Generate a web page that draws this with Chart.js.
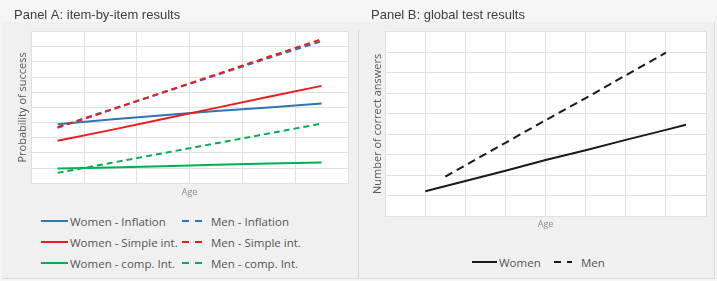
<!DOCTYPE html>
<html>
<head>
<meta charset="utf-8">
<script src="https://cdn.jsdelivr.net/npm/chart.js@4/dist/chart.umd.min.js"></script>
<style>
  html, body { margin: 0; padding: 0; }
  body { width: 717px; height: 281px; background: #f5f5f5; position: relative; overflow: hidden; }
  .frame { position: absolute; left: 2px; top: 22px; width: 712px; height: 256px; background: #f0f0f0;
           border-right: 1px solid #dadada; border-bottom: 1px solid #dadada; }
  .divider { position: absolute; left: 358px; top: 30px; width: 1px; height: 248px; background: #d6d6d6; }
  canvas { position: absolute; top: 0; }
  #chartA { left: 0; }
  #chartB { left: 357px; }
  .legend-item { position: absolute; height: 14px; display: flex; align-items: center; white-space: nowrap;
                 font-family: "Open Sans", sans-serif; font-size: 11.5px; color: #555555; }
  .legend-key { display: inline-block; height: 2px; margin-right: 2px; }
</style>
</head>
<body>
<div class="frame"></div>
<div class="divider"></div>
<canvas id="chartA" width="357" height="202"></canvas>
<canvas id="chartB" width="360" height="235"></canvas>
<div id="legendA"></div>
<div id="legendB"></div>
<script>
// Panel A: probability of success by age, item by item
const agesA = [25, 35, 45, 55, 65, 75];
const womenInflation = [0.389, 0.42, 0.448, 0.476, 0.50, 0.525];
const menInflation   = [0.37, 0.485, 0.598, 0.712, 0.826, 0.936];
const womenSimple    = [0.28, 0.35, 0.423, 0.497, 0.57, 0.642];
const menSimple      = [0.366, 0.482, 0.60, 0.717, 0.834, 0.95];
const womenComp      = [0.097, 0.104, 0.112, 0.121, 0.13, 0.137];
const menComp        = [0.068, 0.133, 0.198, 0.263, 0.328, 0.393];

// Panel B: number of correct answers by age
const agesWomenB  = [20, 30, 40, 50, 60, 70, 80, 85];
const womenGlobal = [1.22, 1.72, 2.22, 2.74, 3.22, 3.72, 4.21, 4.46];
const agesMenB    = [25, 30, 40, 50, 60, 70, 80];
const menGlobal   = [1.93, 2.48, 3.58, 4.68, 5.76, 6.87, 7.97];

const BLUE = '#2e75b6';
const RED = '#ee1c1c';
const GREEN = '#00b050';
const BLACK = '#1a1a1a';
const GRID = '#e0e0e0';

const toPoints = (xs, ys) => xs.map((x, i) => ({ x: x, y: ys[i] }));

// fills the plot area white, like the Excel original
const plotBackground = {
  id: 'plotBackground',
  beforeDraw(chart) {
    const { ctx, chartArea: a } = chart;
    ctx.save();
    ctx.fillStyle = '#ffffff';
    ctx.fillRect(a.left, a.top, a.right - a.left, a.bottom - a.top);
    ctx.restore();
  }
};

// later series are drawn on top, as in Excel
function series(label, xs, ys, color, dashed, dash, idx) {
  return {
    label: label,
    data: toPoints(xs, ys),
    borderColor: color,
    backgroundColor: color,
    borderWidth: 2,
    borderDash: dashed ? dash : [],
    pointRadius: 0,
    tension: 0,
    fill: false,
    order: -idx
  };
}

function axis(min, max, step, title, titleFont, titlePadding, titleColor) {
  return {
    type: 'linear',
    min: min,
    max: max,
    ticks: { display: false, stepSize: step },
    grid: { color: GRID, drawTicks: false },
    border: { color: GRID },
    title: { display: true, text: title, color: titleColor, font: titleFont, padding: titlePadding }
  };
}

function buildOptions(titleText, padding, xAxis, yAxis) {
  return {
    responsive: false,
    animation: false,
    layout: { padding: padding },
    plugins: {
      legend: { display: false },
      tooltip: { enabled: false },
      title: {
        display: true,
        text: titleText,
        align: 'start',
        color: '#404040',
        font: { family: 'Liberation Sans', size: 13, weight: 'normal' },
        padding: { top: 8, bottom: 8 }
      }
    },
    scales: { x: xAxis, y: yAxis }
  };
}

const ageFont = { family: 'Open Sans', size: 9 };
const yTitleFont = { family: 'Open Sans', size: 11 };

const dashA = [6, 4];
const datasetsA = [
  series('Women - Inflation', agesA, womenInflation, BLUE, false, dashA, 0),
  series('Men - Inflation', agesA, menInflation, BLUE, true, dashA, 1),
  series('Women - Simple int.', agesA, womenSimple, RED, false, dashA, 2),
  series('Men - Simple int.', agesA, menSimple, RED, true, dashA, 3),
  series('Women - comp. Int.', agesA, womenComp, GREEN, false, dashA, 4),
  series('Men - comp. Int.', agesA, menComp, GREEN, true, dashA, 5)
];

const chartA = new Chart(document.getElementById('chartA'), {
  type: 'line',
  data: { datasets: datasetsA },
  options: buildOptions('Panel A: item-by-item results',
    { left: 14, right: 9, top: 0, bottom: 0 },
    axis(20, 80, 10, 'Age', ageFont, { top: 4, bottom: 4 }, '#8c8c8c'),
    axis(0, 1, 0.1, 'Probability of success', yTitleFont, { top: 2, bottom: 2 }, '#595959')),
  plugins: [plotBackground]
});

const dashB = [8, 5];
const datasetsB = [
  series('Women', agesWomenB, womenGlobal, BLACK, false, dashB, 0),
  series('Men', agesMenB, menGlobal, BLACK, true, dashB, 1)
];

const chartB = new Chart(document.getElementById('chartB'), {
  type: 'line',
  data: { datasets: datasetsB },
  options: buildOptions('Panel B: global test results',
    { left: 14, right: 11, top: 0, bottom: 0 },
    axis(10, 90, 10, 'Age', ageFont, { top: 3, bottom: 5 }, '#8c8c8c'),
    axis(0, 9, 1, 'Number of correct answers', yTitleFont, { top: 0, bottom: 1 }, '#595959')),
  plugins: [plotBackground]
});

// HTML legend laid out in columns like the original, built from the datasets
function keyStyle(ds, width) {
  const c = ds.borderColor;
  if (ds.borderDash.length) {
    return `width:${width}px;background:repeating-linear-gradient(to right, ${c} 0 7px, transparent 7px 13px);` +
      `-webkit-mask:linear-gradient(to right,#000 0 ${width - 7}px,transparent ${width - 7}px);`;
  }
  return `width:${width}px;background:${c};`;
}

function renderLegend(chart, holderId, cols, rows, keyWidth, canvasLeft) {
  const holder = document.getElementById(holderId);
  chart.data.datasets.forEach((ds, i) => {
    const el = document.createElement('div');
    el.className = 'legend-item';
    el.style.left = (canvasLeft + cols[i % cols.length]) + 'px';
    el.style.top = (rows[Math.floor(i / cols.length)] - 7) + 'px';
    el.innerHTML = `<span class="legend-key" style="${keyStyle(ds, keyWidth)}"></span>${ds.label}`;
    holder.appendChild(el);
  });
}

renderLegend(chartA, 'legendA', [41, 182], [221, 242, 263], 27, 0);
renderLegend(chartB, 'legendB', [472, 554], [262], 25, 0);
</script>
</body>
</html>
